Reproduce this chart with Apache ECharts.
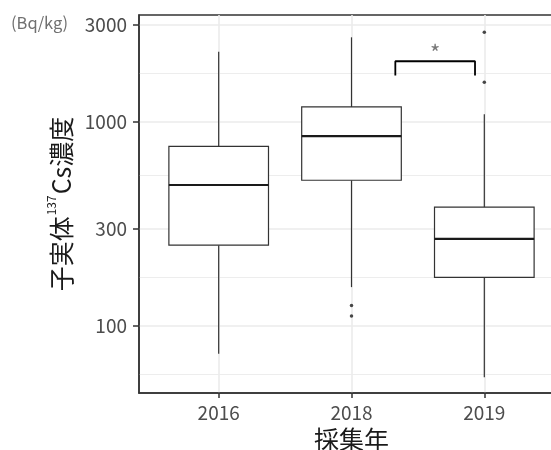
<!DOCTYPE html>
<html>
<head>
<meta charset="utf-8">
<script src="https://cdn.jsdelivr.net/npm/echarts@6/dist/echarts.min.js"></script>
<style>html,body{margin:0;padding:0;background:#fff;}#c{width:551px;height:450px;}</style>
</head>
<body>
<div id="c"></div>
<script>
const categories = ['2016', '2018', '2019'];
const boxMin    = [73, 155, 56];
const boxQ1     = [249, 518, 173];
const boxMedian = [491, 853, 267];
const boxQ3     = [760, 1185, 382];
const boxMax    = [2212, 2601, 1091];
const outlierX  = [1, 1, 2, 2];
const outlierY  = [126, 112, 2755, 1565];
const yTicks    = [100, 300, 1000, 3000];
const yMinorTicks = [57.7, 173.2, 547.7, 1732];
const bracketX  = [1.33, 1.33, 1.93, 1.93];
const bracketY  = [1690, 1985, 1985, 1690];
const starX = 1.63, starY = 2312;

const FONT = '"Noto Sans CJK JP", "Noto Sans", sans-serif';
const boxData = categories.map((c, i) => [i, boxMin[i], boxQ1[i], boxMedian[i], boxQ3[i], boxMax[i]]);
const outlierData = outlierX.map((x, i) => [x, outlierY[i]]);
const bracketData = bracketX.map((x, i) => [x, bracketY[i]]);

const chart = echarts.init(document.getElementById('c'), null, {renderer: 'canvas'});
chart.setOption({
  animation: false,
  backgroundColor: '#ffffff',
  textStyle: {fontFamily: FONT},
  grid: {left: 139, top: 15, width: 425, height: 378, outerBoundsMode: 'none', containLabel: false,
    show: true, borderColor: '#333333', borderWidth: 1.5, backgroundColor: 'transparent'},
  graphic: [{
    type: 'text', left: 11, top: 14,
    style: {text: '(Bq/kg)', fontFamily: FONT, fontSize: 16.5, fill: '#707070'}
  }],
  xAxis: {
    type: 'value', min: -0.6, max: 2.6,
    name: '採集年', nameLocation: 'middle', nameGap: 34,
    nameTextStyle: {fontFamily: FONT, fontSize: 25, color: '#1a1a1a'},
    axisLine: {show: true, onZero: false, lineStyle: {color: '#333333', width: 1.5}},
    axisTick: {show: true, length: 5, customValues: [0, 1, 2], lineStyle: {color: '#333333', width: 1.5}},
    axisLabel: {show: true, customValues: [0, 1, 2], margin: 10, fontFamily: FONT, fontSize: 19, color: '#4d4d4d',
      formatter: v => categories[Math.round(v)]},
    splitLine: {show: true, lineStyle: {color: '#ebebeb', width: 1.6}}
  },
  yAxis: [{
    type: 'log', logBase: 10, min: 46.9, max: 3346,
    name: '{a|子実体}{s|137}{a|Cs濃度}', nameLocation: 'middle', nameGap: 62, nameRotate: 90,
    nameTextStyle: {fontFamily: FONT, color: '#1a1a1a',
      rich: {a: {fontFamily: FONT, fontSize: 25, color: '#1a1a1a', verticalAlign: 'bottom', lineHeight: 30},
             s: {fontFamily: FONT, fontSize: 12, color: '#1a1a1a', verticalAlign: 'top', lineHeight: 30, padding: [2, 1, 0, 1]}}},
    axisLine: {show: true, onZero: false, lineStyle: {color: '#333333', width: 1.5}},
    axisTick: {show: true, length: 6, customValues: yTicks, lineStyle: {color: '#333333', width: 1.5}},
    axisLabel: {show: true, customValues: yTicks, margin: 12, fontFamily: FONT, fontSize: 19, color: '#4d4d4d',
      formatter: v => String(Math.round(v))},
    splitLine: {show: true, lineStyle: {color: '#ebebeb', width: 1.6}}
  }, {
    type: 'log', logBase: 10, min: 46.9, max: 3346, position: 'left',
    axisLine: {show: false}, axisLabel: {show: false},
    axisTick: {show: false, customValues: yMinorTicks},
    splitLine: {show: true, lineStyle: {color: '#ededed', width: 1}}
  }],
  series: [{
    type: 'custom',
    xAxisIndex: 0, yAxisIndex: 0,
    encode: {x: 0, y: [1, 2, 3, 4, 5]},
    data: boxData,
    renderItem: function (params, api) {
      const x = api.value(0);
      const lo = api.coord([x - 0.375, api.value(2)]);
      const hi = api.coord([x + 0.375, api.value(4)]);
      const med = api.coord([x, api.value(3)]);
      const wmin = api.coord([x, api.value(1)]);
      const wmax = api.coord([x, api.value(5)]);
      const ls = {stroke: '#333333', lineWidth: 1.2};
      return {type: 'group', children: [
        {type: 'line', shape: {x1: wmin[0], y1: wmin[1], x2: wmin[0], y2: lo[1]}, style: ls},
        {type: 'line', shape: {x1: wmax[0], y1: hi[1], x2: wmax[0], y2: wmax[1]}, style: ls},
        {type: 'rect', shape: {x: lo[0], y: hi[1], width: hi[0] - lo[0], height: lo[1] - hi[1]}, style: {fill: '#ffffff', stroke: '#333333', lineWidth: 1.2}},
        {type: 'line', shape: {x1: lo[0], y1: med[1], x2: hi[0], y2: med[1]}, style: {stroke: '#1a1a1a', lineWidth: 2.2}}
      ]};
    }
  }, {
    type: 'scatter', data: outlierData, symbol: 'circle', symbolSize: 3.5,
    itemStyle: {color: '#1a1a1a'}, z: 5
  }, {
    type: 'line', data: bracketData, symbol: 'none',
    lineStyle: {color: '#000000', width: 1.8}, z: 5
  }, {
    type: 'scatter', data: [[starX, starY]], symbolSize: 0,
    label: {show: true, position: 'inside', formatter: '*', fontFamily: FONT, fontSize: 22, color: '#555555', offset: [0, 5]},
    z: 5
  }]
});
</script>
</body>
</html>
